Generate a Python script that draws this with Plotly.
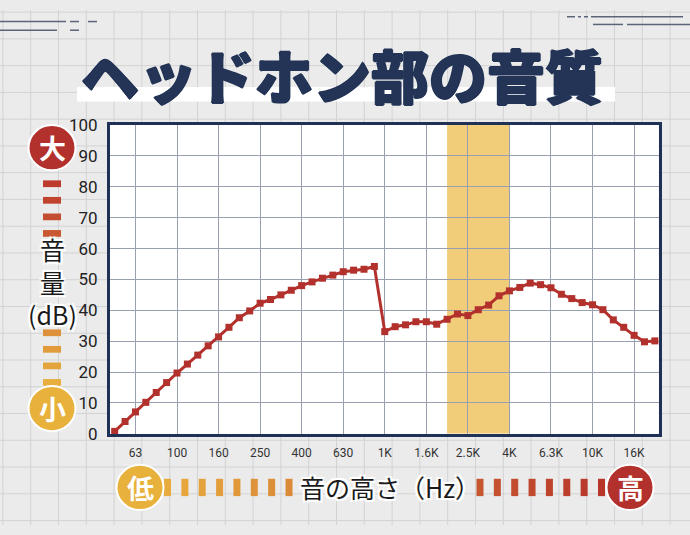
import plotly.graph_objects as go

W, H = 690, 535

# ---------------- data ----------------
freq_labels = ["63", "100", "160", "250", "400", "630", "1K", "1.6K",
               "2.5K", "4K", "6.3K", "10K", "16K"]
# measured level for each 1/6-octave step (dB)
level_db = [0.8, 4.0, 7.1, 10.2, 13.4, 16.6, 19.7, 22.6, 25.5, 28.5,
            31.4, 34.5, 37.6, 39.8, 42.3, 43.5, 45.0, 46.5, 48.0, 49.2,
            50.4, 51.4, 52.5, 53.0, 53.3, 54.2, 33.1, 34.7, 35.3, 36.3,
            36.3, 35.5, 37.1, 38.8, 38.3, 40.2, 41.7, 44.7, 46.3, 47.4,
            48.8, 48.3, 47.3, 45.2, 43.8, 42.5, 41.8, 40.2, 36.9, 34.5,
            31.9, 29.8, 30.1]
y_ticks = list(range(0, 101, 10))
band_start, band_end = 32, 38      # highlighted band (point index)
first_label_idx, steps_per_label = 2, 4

title_text = "ヘッドホン部の音質"
y_title = "音<br>量<br>(dB)"
x_title = "音の高さ（Hz）"

# ---------------- helpers ----------------
def fx(p):
    return p / W

def fy(p):
    return 1 - p / H

NAVY = "#1f3154"
TNAVY = "#233456"
RED = "#b3312c"
YEL = "#e8b13c"
JP = "Noto Sans CJK JP"

idx = list(range(len(level_db)))
tick_pos = [first_label_idx + steps_per_label * k for k in range(len(freq_labels))]

shapes = []
# graph-paper background
gx = 2.9
while gx < W:
    shapes.append(dict(type="line", xref="paper", yref="paper", x0=fx(gx), x1=fx(gx),
                       y0=0, y1=1, line=dict(color="#d3d3d3", width=1), layer="below"))
    gx += 27.8
gy = 2.2
while gy < H:
    shapes.append(dict(type="line", xref="paper", yref="paper", x0=0, x1=1,
                       y0=fy(gy), y1=fy(gy), line=dict(color="#d3d3d3", width=1), layer="below"))
    gy += 27.8
# white plot area
shapes.append(dict(type="rect", xref="paper", yref="paper", x0=fx(110), x1=fx(658.5),
                   y0=fy(440.3), y1=fy(119.5), fillcolor="white", line=dict(width=0), layer="below"))
# white bar under title
shapes.append(dict(type="rect", xref="paper", yref="paper", x0=fx(77), x1=fx(615),
                   y0=fy(95), y1=fy(80), fillcolor="white", line=dict(width=0), layer="below"))
# decorative top lines
deco = [(0, 66, 12), (70, 79, 12), (88, 97, 12), (0, 57, 21), (70, 79, 21),
        (567, 575, 7), (578, 581, 7), (584, 588, 7), (591, 683, 7),
        (593, 623, 15), (627, 690, 15)]
for x0, x1, yy in deco:
    shapes.append(dict(type="line", xref="paper", yref="paper", x0=fx(x0), x1=fx(x1),
                       y0=fy(yy), y1=fy(yy), line=dict(color="#5b6579", width=1.5)))
# highlighted frequency band
shapes.append(dict(type="rect", xref="x", yref="y", x0=band_start, x1=band_end, y0=0, y1=100,
                   fillcolor="#f1cd7a", line=dict(width=0), layer="below"))

def lerp_col(c1, c2, t):
    a = [int(c1[i:i + 2], 16) for i in (1, 3, 5)]
    b = [int(c2[i:i + 2], 16) for i in (1, 3, 5)]
    return "#" + "".join("%02x" % round(a[i] + (b[i] - a[i]) * t) for i in range(3))

# vertical dashes (left)
for k in list(range(0, 4)) + list(range(9, 13)):
    cy = 180.5 + 17.2 * k
    col = lerp_col("#bd3a2e", "#e8ae3e", k / 12)
    shapes.append(dict(type="rect", xref="paper", yref="paper", x0=fx(43), x1=fx(61),
                       y0=fy(cy + 3.5), y1=fy(cy - 3.5), fillcolor=col, line=dict(width=0)))
# horizontal dashes (bottom)
for k in list(range(0, 8)) + list(range(18, 26)):
    cx = 167.5 + 17.36 * k
    col = lerp_col("#e8ab3e", "#b8352a", k / 25)
    shapes.append(dict(type="rect", xref="paper", yref="paper", x0=fx(cx - 3.5), x1=fx(cx + 3.5),
                       y0=fy(505), y1=fy(487), fillcolor=col, line=dict(width=0)))

# circles
circles = [(52, 143, RED, "大"), (52, 414, YEL, "小"), (140, 496, YEL, "低"), (630, 496, RED, "高")]
annotations = []
R = 23.5
for cx, cy, col, t in circles:
    shapes.append(dict(type="circle", xref="paper", yref="paper", x0=fx(cx - R), x1=fx(cx + R),
                       y0=fy(cy + R), y1=fy(cy - R), fillcolor=col, line=dict(color="white", width=2)))
    annotations.append(dict(x=fx(cx), y=fy(cy), xref="paper", yref="paper", text="<b>%s</b>" % t,
                            showarrow=False, xanchor="center", yanchor="middle",
                            font=dict(family=JP, size=27, color="white", weight=900)))

glow = "2px 2px 0 #fff, -2px -2px 0 #fff, 2px -2px 0 #fff, -2px 2px 0 #fff, 0 0 5px #fff"
heavy = ("1px 0 0 %s, -1px 0 0 %s, 0 1px 0 %s, 0 -1px 0 %s"
         % (TNAVY, TNAVY, TNAVY, TNAVY))
annotations += [
    dict(x=fx(342), y=fy(66), xref="paper", yref="paper", text=title_text, showarrow=False,
         xanchor="center", yanchor="middle",
         font=dict(family=JP, size=58, color=TNAVY, weight=900, shadow=heavy)),
    dict(x=fx(52), y=fy(282), xref="paper", yref="paper", text=y_title, showarrow=False,
         xanchor="center", yanchor="middle", align="center",
         font=dict(family=JP, size=25, color="#1a1a1a", shadow=glow)),
    dict(x=fx(390), y=fy(496), xref="paper", yref="paper", text=x_title, showarrow=False,
         xanchor="center", yanchor="middle",
         font=dict(family=JP, size=25, color="#1a1a1a", shadow=glow)),
]

fig = go.Figure()
fig.add_trace(go.Scatter(
    x=idx, y=level_db, mode="lines+markers",
    line=dict(color=RED, width=3),
    marker=dict(symbol="square", size=7, color=RED),
    cliponaxis=False, hoverinfo="skip"))

fig.update_layout(
    width=W, height=H, margin=dict(l=0, r=0, t=0, b=0),
    paper_bgcolor="#ebebeb", plot_bgcolor="white", showlegend=False,
    shapes=shapes, annotations=annotations,
    xaxis=dict(domain=[fx(110), fx(658.5)], range=[-0.45, 52.35],
               tickvals=tick_pos, ticktext=freq_labels,
               showgrid=True, gridcolor="#98a0b0", gridwidth=1,
               showline=True, linecolor=NAVY, linewidth=3, mirror=True,
               ticks="", ticklabelstandoff=6, zeroline=False, fixedrange=True,
               tickfont=dict(family="Roboto", size=12, color="#333")),
    yaxis=dict(domain=[fy(440.3), fy(119.5)], range=[0, 100],
               tickvals=y_ticks,
               showgrid=True, gridcolor="#98a0b0", gridwidth=1,
               showline=True, linecolor=NAVY, linewidth=3, mirror=True,
               ticks="", ticklabelstandoff=6, zeroline=False, fixedrange=True,
               tickfont=dict(family="Roboto", size=17, color="#222")),
)

fig.write_html("out.html")
